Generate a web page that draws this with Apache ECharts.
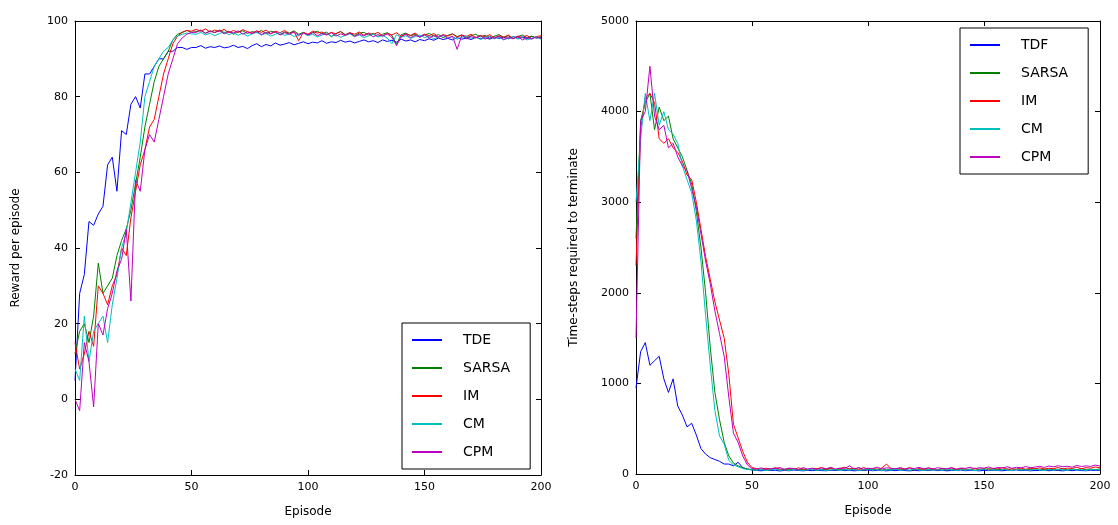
<!DOCTYPE html>
<html>
<head>
<meta charset="utf-8">
<script src="https://cdn.jsdelivr.net/npm/echarts@6/dist/echarts.min.js"></script>
<style>
html,body{margin:0;padding:0;background:#fff;}
#chart{width:1118px;height:525px;}
</style>
</head>
<body>
<div id="chart"></div>
<script>
// Episode numbers (sampled every 2 episodes)
const EPISODES = [0,2,4,6,8,10,12,14,16,18,20,22,24,26,28,30,32,34,36,38,40,42,44,46,48,50,
  52,54,56,58,60,62,64,66,68,70,72,74,76,78,80,
  82,84,86,88,90,92,94,96,98,100,102,104,106,108,110,
  112,114,116,118,120,122,124,126,128,130,132,134,136,138,140,
  142,144,146,148,150,152,154,156,158,160,162,164,166,168,170,
  172,174,176,178,180,182,184,186,188,190,192,194,196,198,200];

const NAMES_LEFT = ['TDE','SARSA','IM','CM','CPM'];
const NAMES_RIGHT = ['TDF','SARSA','IM','CM','CPM'];
const X_TICKS = [0,50,100,150,200];
const Y_TICKS_LEFT = [-20,0,20,40,60,80,100];
const Y_TICKS_RIGHT = [0,1000,2000,3000,4000,5000];

// Left: reward per episode
const TDE_REWARD = [5,28,33,47,46,49,51,62,64,55,71,70,78,80,77,86,86,88,90,90,92,92,93,93,92.5,93,
  93.0,93.5,92.8,93.2,93.0,93.4,92.9,93.1,93.6,93.0,93.3,92.7,93.5,94.0,93.2,
  93.8,93.4,94.2,93.6,93.9,94.3,93.7,94.1,94.5,94.0,94.4,94.2,94.8,94.1,94.5,
  94.3,94.9,94.4,94.7,94.2,94.6,95.0,94.5,94.8,94.3,95.0,94.6,94.9,94.4,95.2,
  94.7,95.0,94.5,95.1,94.8,95.3,94.9,95.5,95.1,95.4,95.0,95.6,95.2,95.5,95.1,
  95.7,95.3,95.6,95.2,95.8,95.4,95.7,95.3,95.9,95.5,95.8,95.4,95.9,95.5,95.7];
const SARSA_REWARD = [12,18,20,15,22,36,28,30,32,38,42,45,50,57,64,72,78,84,88,90,92,95,96.5,97,97.5,97,
  97.2,97.5,96.8,97.4,97.0,97.6,96.9,97.3,96.5,97.1,97.4,96.7,97.2,96.9,97.5,
  96.6,97.3,97.0,96.4,97.1,96.8,97.4,96.5,97.0,96.2,96.9,97.3,96.6,97.1,95.8,
  96.7,97.2,96.4,96.9,96.1,96.8,97.0,96.3,96.7,95.9,96.5,96.9,96.2,93.8,96.4,
  96.8,96.1,96.5,95.7,96.3,96.7,96.0,96.4,95.6,96.2,96.6,95.9,96.3,95.5,96.1,
  96.5,95.8,96.2,95.4,96.0,96.4,95.7,96.1,95.3,95.9,96.3,95.6,96.0,95.5,95.8];
const IM_REWARD = [15,8,12,18,14,30,28,25,30,33,40,38,48,55,62,66,72,74,80,86,90,94,96,97,97.5,97.3,
  97.8,97.3,97.9,97.1,97.6,97.2,97.8,96.9,97.5,97.0,97.7,97.2,96.8,97.4,97.0,
  97.6,96.7,97.3,96.9,97.5,96.6,97.2,94.8,97.0,96.5,97.3,96.8,97.1,96.4,97.0,
  96.6,97.2,96.3,96.9,96.5,97.1,96.2,96.8,96.4,97.0,96.1,96.7,96.3,96.9,96.0,
  96.6,96.2,96.8,95.9,96.5,96.1,96.7,95.8,96.4,96.0,96.6,95.7,96.3,95.9,96.5,
  95.6,96.2,95.8,96.4,95.5,96.1,95.7,96.3,95.4,96.0,95.6,96.2,95.3,95.9,96.1];
const CM_REWARD = [8,5,22,10,18,20,22,15,25,32,40,44,52,60,68,80,84,88,90,92,93,95,96,96.5,96.8,96.6,
  96.5,97.0,96.3,96.8,96.1,96.7,97.1,96.4,96.9,96.2,96.8,96.0,96.6,97.0,96.3,
  96.7,96.0,96.5,96.9,96.2,96.6,95.9,96.4,96.8,96.1,96.5,95.8,96.3,96.7,96.0,
  96.4,95.7,96.2,96.6,95.9,96.3,95.6,96.1,96.5,95.8,96.2,95.5,94.0,96.4,95.7,
  96.1,95.4,95.9,96.3,95.6,96.0,95.3,95.8,96.2,95.5,95.9,95.2,95.7,96.1,95.4,
  95.8,95.1,95.6,96.0,95.3,95.7,95.0,95.5,95.9,95.2,95.6,95.0,95.4,95.8,95.2];
const CPM_REWARD = [0,-3,15,10,-2,20,17,24,28,34,37,45,26,58,55,66,70,68,74,80,86,90,94,95.5,96.5,97,
  97.0,97.6,96.7,97.3,96.9,97.5,96.6,97.2,96.8,97.4,96.5,97.1,96.7,97.3,96.4,
  97.0,96.6,97.2,96.3,96.9,96.5,97.1,96.2,96.8,96.4,97.0,96.1,96.7,96.3,96.9,
  96.0,96.6,96.2,96.8,95.9,96.5,96.1,96.7,95.8,96.4,96.0,96.6,95.7,93.5,95.9,
  96.5,95.6,96.2,95.8,96.4,95.5,96.1,95.7,96.3,95.4,96.0,92.5,96.2,95.3,95.9,
  95.5,96.1,95.2,95.8,95.4,96.0,95.1,95.7,95.3,95.9,95.0,95.6,95.2,95.8,95.4];

// Right: time-steps required to terminate
const TDE_STEPS = [950,1350,1450,1200,1250,1300,1050,900,1050,750,650,520,560,430,280,220,180,160,140,110,110,90,130,70,55,45,
  40,35,45,38,42,33,40,36,44,39,35,41,37,43,38,
  36,42,39,45,37,41,35,40,38,44,36,42,39,35,41,
  37,43,38,35,40,36,42,39,45,37,41,35,40,38,44,
  36,42,39,35,41,37,43,38,36,42,39,45,37,41,35,
  40,38,44,36,42,39,35,41,37,43,38,36,42,39,40];
const SARSA_STEPS = [2600,3900,4100,4200,3800,4050,3900,3950,3700,3600,3500,3350,3200,2900,2500,2000,1400,900,600,350,200,120,90,70,55,50,
  45,56,41,50,62,43,53,47,58,44,52,46,57,40,51,
  48,58,42,54,49,61,45,70,41,52,47,55,43,50,46,
  57,44,53,40,51,48,59,43,52,47,56,42,54,46,50,
  45,55,41,53,48,60,44,51,47,57,42,54,46,52,49,
  58,43,55,47,51,45,60,44,53,48,57,46,52,49,55];
const IM_STEPS = [2300,3800,4150,4200,4100,3700,3650,3700,3600,3550,3450,3300,3250,3000,2700,2400,2150,1900,1700,1500,1100,550,400,250,130,70,
  60,48,65,52,70,55,45,62,50,68,54,47,63,58,72,
  51,66,49,60,75,53,64,48,70,56,62,50,67,110,58,
  49,63,55,71,47,60,52,66,58,45,62,54,69,50,61,
  56,48,65,52,60,46,63,55,70,49,58,53,66,51,62,
  57,68,54,63,59,72,55,66,61,75,58,70,64,78,68];
const CM_STEPS = [3000,3700,4200,3900,4200,3850,4000,3800,3750,3650,3400,3250,3100,2800,2350,1750,1200,700,420,330,150,100,80,60,50,45,
  42,50,38,46,55,40,48,36,52,44,39,47,54,41,49,
  37,45,53,40,48,43,51,38,46,56,42,49,36,47,44,
  52,39,48,41,55,45,37,50,43,47,40,53,46,38,49,
  42,51,36,46,54,41,48,39,52,44,37,50,43,47,40,
  53,45,38,49,42,55,46,40,51,44,48,39,52,45,47];
const CPM_STEPS = [1500,3900,4000,4500,3950,3800,3850,3600,3650,3500,3400,3350,3150,2950,2650,2350,2100,1800,1550,1300,850,450,350,200,100,60,
  55,68,50,62,58,72,52,65,60,48,70,56,63,51,67,
  59,74,54,66,61,90,57,69,53,64,60,75,55,68,62,
  58,71,52,65,60,73,56,67,54,69,61,57,70,53,66,
  62,75,58,70,64,78,60,72,66,80,63,74,68,82,70,
  76,85,72,88,78,92,80,86,75,95,82,90,84,98,88];

const COLORS = ['#0000ff','#008000','#ff0000','#00bfbf','#bf00bf'];

function pairs(vals){ return EPISODES.map((e,i)=>[e, vals[i]]); }

const LEFT_VALUES = [TDE_REWARD, SARSA_REWARD, IM_REWARD, CM_REWARD, CPM_REWARD];
const RIGHT_VALUES = [TDE_STEPS, SARSA_STEPS, IM_STEPS, CM_STEPS, CPM_STEPS];

const FONT = 'DejaVu Sans';
const tickLabel = {fontFamily: FONT, fontSize: 11, color: '#000'};

function mainX(gi){
  return {gridIndex: gi, type:'value', min:0, max:200, interval:50,
    name:'Episode', nameLocation:'middle', nameGap:31,
    nameTextStyle:{fontFamily:FONT, fontSize:12, color:'#000'},
    axisLine:{show:true, onZero:false, lineStyle:{color:'#000', width:1}},
    axisTick:{show:true, inside:true, length:5, lineStyle:{color:'#000'}},
    axisLabel:Object.assign({margin:7, formatter: v => X_TICKS.includes(v) ? String(v) : ''}, tickLabel),
    splitLine:{show:false}};
}
function mirrorX(gi){
  return {gridIndex: gi, type:'value', position:'top', min:0, max:200, interval:50,
    axisLine:{show:true, onZero:false, lineStyle:{color:'#000', width:1}},
    axisTick:{show:true, inside:true, length:5, lineStyle:{color:'#000'}},
    axisLabel:{show:false}, splitLine:{show:false}};
}
function mainY(gi, min, max, interval, name, gap, ticks){
  return {gridIndex: gi, type:'value', min:min, max:max, interval:interval,
    name:name, nameLocation:'middle', nameGap:gap,
    nameTextStyle:{fontFamily:FONT, fontSize:12, color:'#000'},
    axisLine:{show:true, onZero:false, lineStyle:{color:'#000', width:1}},
    axisTick:{show:true, inside:true, length:5, lineStyle:{color:'#000'}},
    axisLabel:Object.assign({margin:7, formatter: v => ticks.includes(v) ? String(v) : ''}, tickLabel),
    splitLine:{show:false}};
}
function mirrorY(gi, min, max, interval){
  return {gridIndex: gi, type:'value', position:'right', min:min, max:max, interval:interval,
    axisLine:{show:true, onZero:false, lineStyle:{color:'#000', width:1}},
    axisTick:{show:true, inside:true, length:5, lineStyle:{color:'#000'}},
    axisLabel:{show:false}, splitLine:{show:false}};
}

const series = [];
NAMES_LEFT.forEach((n,i)=>{
  series.push({name:n, type:'line', xAxisIndex:0, yAxisIndex:0, data:pairs(LEFT_VALUES[i]),
    symbol:'none', lineStyle:{width:1, color:COLORS[i]}, itemStyle:{color:COLORS[i]}, animation:false});
});
NAMES_RIGHT.forEach((n,i)=>{
  series.push({name:n, type:'line', xAxisIndex:2, yAxisIndex:2, data:pairs(RIGHT_VALUES[i]),
    symbol:'none', lineStyle:{width:1, color:COLORS[i]}, itemStyle:{color:COLORS[i]}, animation:false});
});

const legendCommon = {
  orient:'vertical', icon:'rect', itemWidth:30, itemHeight:2, itemGap:14,
  backgroundColor:'#fff', borderColor:'#000', borderWidth:1, borderRadius:0,
  padding:[10,20,10,10],
  textStyle:{fontFamily:FONT, fontSize:14, color:'#000', padding:[0,0,0,16]}
};

const option = {
  animation:false,
  backgroundColor:'#fff',
  grid:[
    {left:75, top:21, width:466, height:454, containLabel:false},
    {left:636, top:21, width:464, height:453, containLabel:false}
  ],
  xAxis:[mainX(0), mirrorX(0), mainX(1), mirrorX(1)],
  yAxis:[
    mainY(0, -20, 100, 20, 'Reward per episode', 53, Y_TICKS_LEFT),
    mirrorY(0, -20, 100, 20),
    mainY(1, 0, 5000, 1000, 'Time-steps required to terminate', 56, Y_TICKS_RIGHT),
    mirrorY(1, 0, 5000, 1000)
  ],
  legend:[
    Object.assign({}, legendCommon, {left:402, top:323, data:NAMES_LEFT}),
    Object.assign({}, legendCommon, {left:960, top:28, data:NAMES_RIGHT})
  ],
  series:series
};

const chart = echarts.init(document.getElementById('chart'), null, {renderer:'canvas'});
chart.setOption(option);
</script>
</body>
</html>
